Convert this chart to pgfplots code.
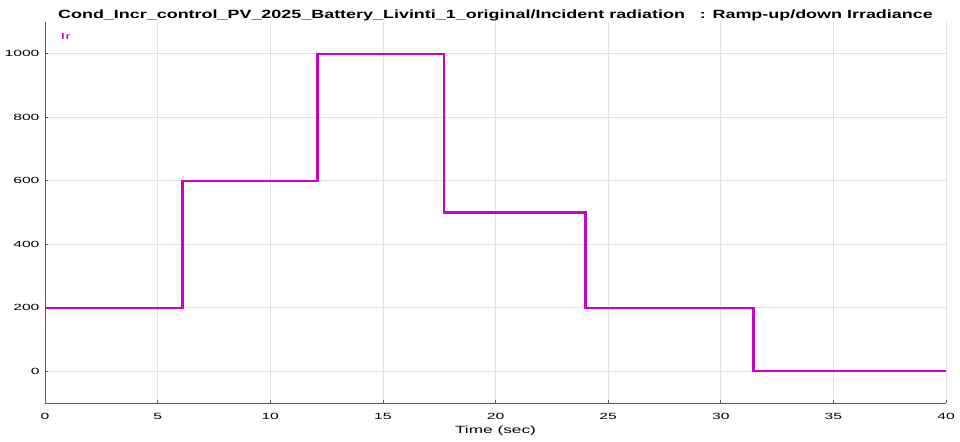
\documentclass[border=0pt]{standalone}
\usepackage{fontspec}
\setmainfont{Liberation Sans}
\newfontfamily\tickfont{Liberation Sans}[FakeStretch=1.75]
\usepackage{graphicx}
\usepackage{pgfplots}
\pgfplotsset{compat=1.18}
\definecolor{irmag}{RGB}{200,0,200}
\definecolor{gridgray}{RGB}{226,226,226}
\definecolor{axgray}{RGB}{90,90,90}
\begin{document}
\begin{tikzpicture}
\useasboundingbox (-45bp,-39bp) rectangle (915bp,403bp);
\begin{axis}[
  at={(0,0)}, anchor=south west,
  scale only axis,
  width=901bp, height=381bp,
  xmin=0, xmax=40, ymin=-100, ymax=1100,
  xtick={0,5,...,40},
  ytick={0,200,...,1000},
  axis x line=bottom, axis y line=left,
  axis line style={-, draw=axgray, line width=0.8bp},
  tick style={draw=axgray, line width=0.6bp},
  major tick length=3bp,
  tick align=inside,
  grid=major,
  major grid style={draw=gridgray, line width=0.6bp},
  /pgf/number format/assume math mode=true,
  /pgf/number format/1000 sep={},
  tick label style={font=\tickfont\fontsize{9}{10}\selectfont, text=black},
  xticklabel style={yshift=-7bp},
  yticklabel style={xshift=-2bp},
  xlabel={\scalebox{1.65}[1]{Time (sec)}},
  xlabel style={font=\fontsize{10.5}{11}\selectfont, yshift=1bp},
  title={\scalebox{1.5}[1]{\bfseries Cond\_Incr\_control\_PV\_2025\_Battery\_Livinti\_1\_original/Incident radiation\ \ \ : Ramp-up/down Irradiance}},
  title style={font=\fontsize{12}{14}\selectfont, at={(0.5,1)}, anchor=south, yshift=-9bp},
  clip=false,
]
\addplot[const plot, color=irmag, line width=2.3bp] coordinates {
  (0,200) (6.1,600) (12.1,1000) (17.7,500) (24.0,200) (31.45,0) (40,0)
};
\node[anchor=west, text=irmag, font=\fontsize{9}{10}\selectfont] at (rel axis cs:0,1) [xshift=12bp, yshift=-14bp] {\scalebox{1.9}[1]{Ir}};
\end{axis}
\end{tikzpicture}
\end{document}
